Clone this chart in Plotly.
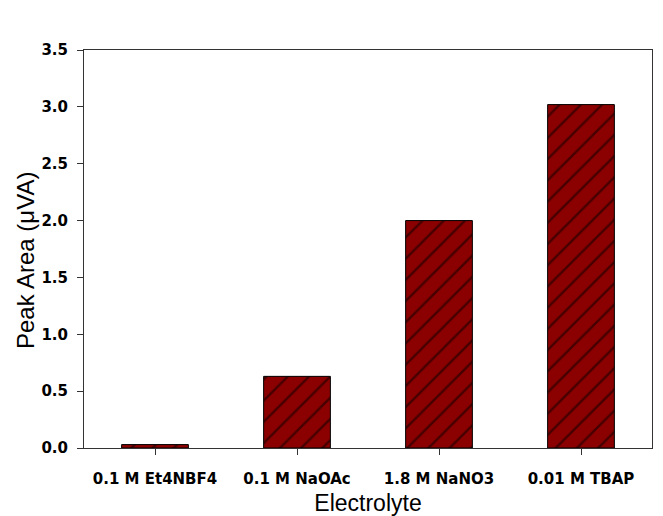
import plotly.graph_objects as go

categories = ["0.1 M Et4NBF4", "0.1 M NaOAc", "1.8 M NaNO3", "0.01 M TBAP"]
peak_area = [0.03, 0.63, 2.0, 3.02]
y_ticks = [0.0, 0.5, 1.0, 1.5, 2.0, 2.5, 3.0, 3.5]
y_tick_labels = ["0.0", "0.5", "1.0", "1.5", "2.0", "2.5", "3.0", "3.5"]
x_title = "Electrolyte"
y_title = "Peak Area (\u03bcVA)"

fig = go.Figure(go.Bar(
    x=categories, y=peak_area, width=0.47,
    marker=dict(
        color="#8B0000",
        line=dict(color="black", width=1),
        pattern=dict(shape="/", fgcolor="black", bgcolor="#8B0000", size=15, solidity=0.15),
    ),
))

axis_font = dict(family="Liberation Sans, Arial, sans-serif", size=23, color="black")
tick_font = dict(family="DejaVu Sans, sans-serif", size=15, color="black", weight="bold")

fig.update_layout(
    width=663, height=516,
    margin=dict(l=84, r=11, t=50, b=68),
    paper_bgcolor="white", plot_bgcolor="white",
    showlegend=False,
    xaxis=dict(
        title=dict(text=x_title, font=axis_font, standoff=12),
        tickfont=tick_font, showline=True, linecolor="#333", linewidth=1, mirror=True,
        ticks="outside", ticklen=6, tickcolor="#333", range=[-0.5, 3.5], showgrid=False,
        ticklabelstandoff=11, automargin=False,
    ),
    yaxis=dict(
        tickfont=tick_font,
        tickvals=y_ticks, ticktext=y_tick_labels,
        range=[0, 3.5], showline=True, linecolor="#333", linewidth=1, mirror=True,
        ticks="outside", ticklen=6, tickcolor="#333", showgrid=False, zeroline=False,
        ticklabelstandoff=6, automargin=False,
    ),
    annotations=[dict(
        text=y_title, textangle=-90, showarrow=False,
        xref="paper", yref="paper", x=-0.104, y=0.472,
        xanchor="center", yanchor="middle",
        font=dict(family="Liberation Sans, Arial, sans-serif", size=24, color="black"),
    )],
)

fig.write_html(
    "out.html",
    config={"displayModeBar": False},
    post_script="document.body.style.margin='0';document.body.style.overflow='hidden';",
)
